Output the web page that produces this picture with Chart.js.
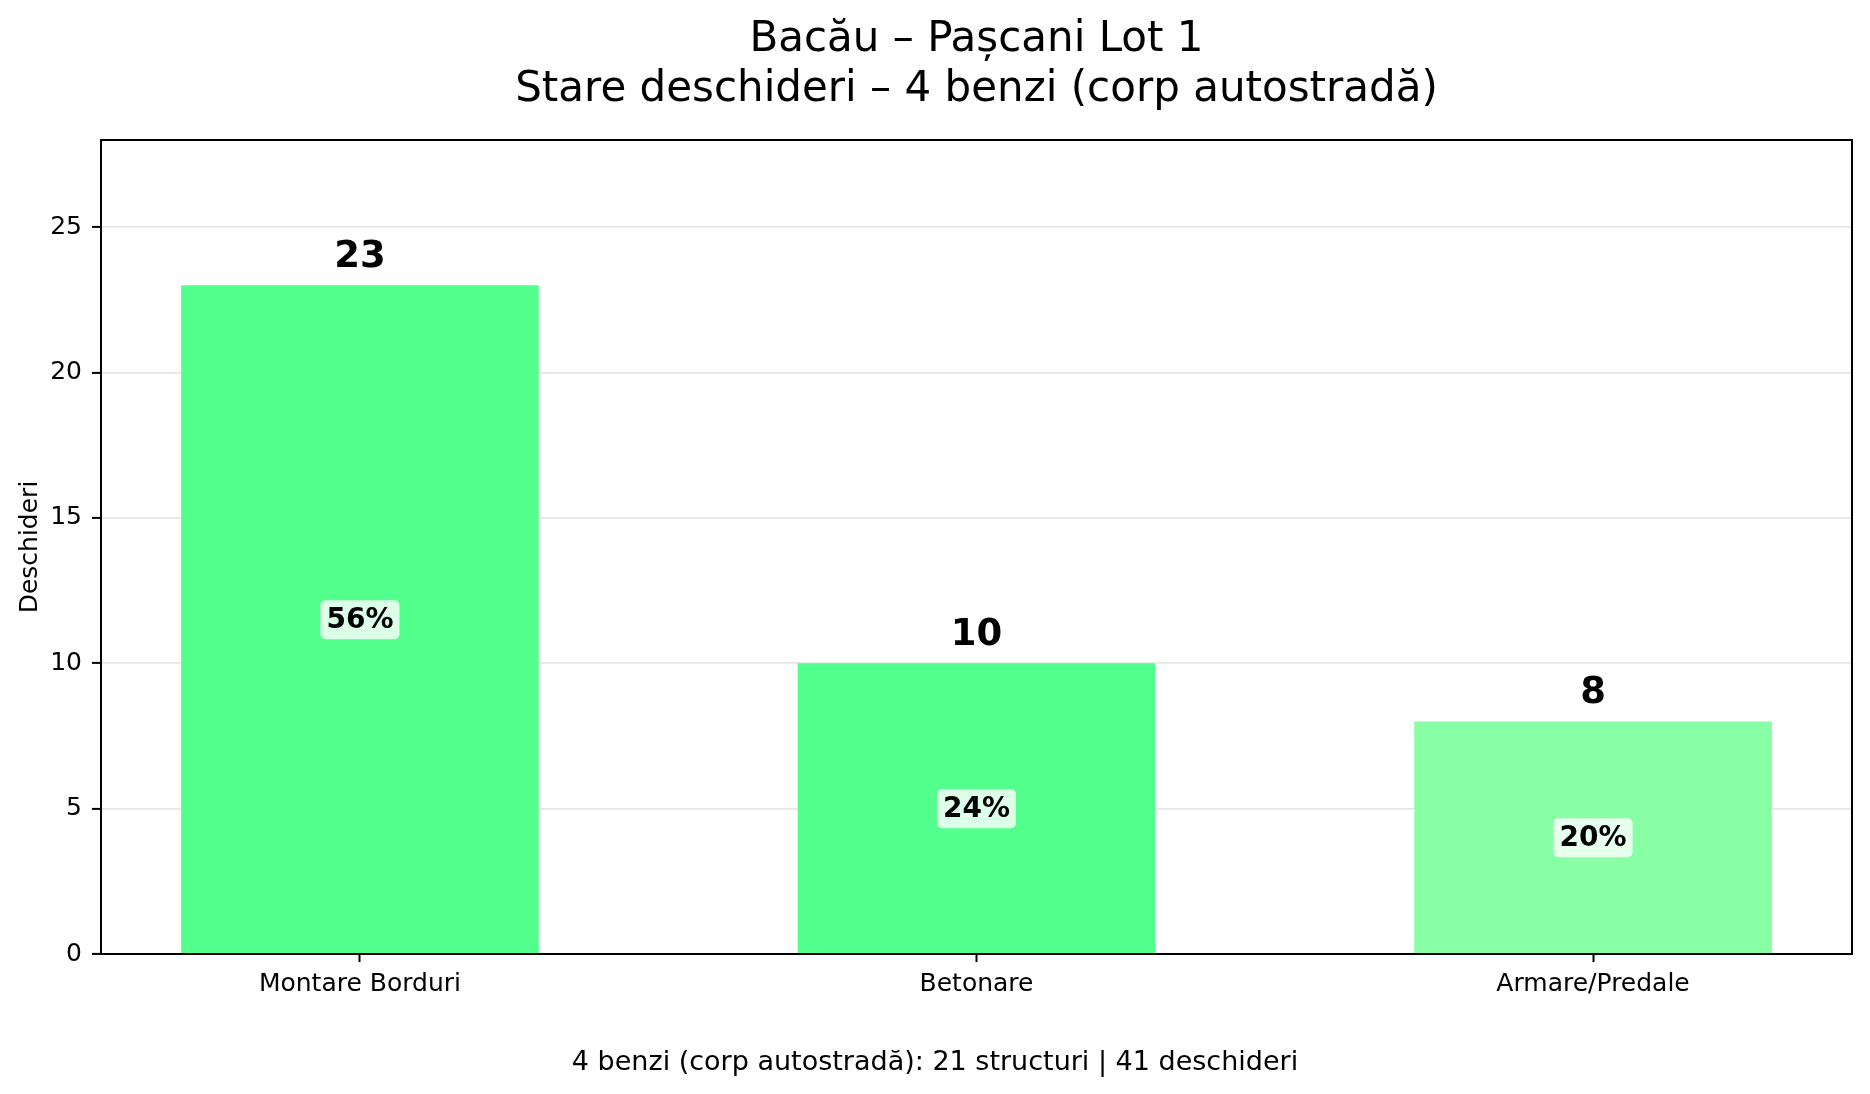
<!DOCTYPE html>
<html>
<head>
<meta charset="utf-8">
<script src="https://cdn.jsdelivr.net/npm/chart.js@4.4.1/dist/chart.umd.min.js"></script>
<style>
  html, body { margin: 0; padding: 0; background: #fff; }
  canvas { display: block; }
</style>
</head>
<body>
<canvas id="graf" width="1870" height="1094"></canvas>
<script>
// date
const categorii = ["Montare Borduri", "Betonare", "Armare/Predale"]
const deschideri = [23, 10, 8]
const procente = [56, 24, 20]
const yTicks = [0, 5, 10, 15, 20, 25]
const culori = ["#53ff8c", "#53ff8c", "#88ffa5"]

const titlu = ["Bacău – Pașcani Lot 1", "Stare deschideri – 4 benzi (corp autostradă)"]
const tipBenzi = "4 benzi (corp autostradă)"
const nrStructuri = 21
const totalDeschideri = 41

const FONT = "'DejaVu Sans', sans-serif"

// titlul (centrat pe axe), nota de jos, etichetele barelor si chenarul
const eticheteBare = {
    id: "eticheteBare",
    afterDatasetsDraw(chart) {
        const ctx = chart.ctx
        const meta = chart.getDatasetMeta(0)
        const y = chart.scales.y
        const area = chart.chartArea
        ctx.save()
        ctx.textAlign = "center"
        meta.data.forEach((bar, i) => {
            // valoarea bold deasupra
            ctx.fillStyle = "#000"
            ctx.font = "bold 37px " + FONT
            ctx.textBaseline = "alphabetic"
            ctx.fillText(String(deschideri[i]), bar.x, bar.y - 18)

            // procentul intr-o caseta alba semi-transparenta
            const txt = procente[i] + "%"
            ctx.font = "bold 28px " + FONT
            const w = ctx.measureText(txt).width + 12
            const h = 39
            const cy = y.getPixelForValue(deschideri[i] / 2)
            ctx.fillStyle = "rgba(255,255,255,0.8)"
            ctx.beginPath()
            ctx.roundRect(bar.x - w / 2, cy - h / 2, w, h, 5)
            ctx.fill()
            ctx.fillStyle = "#000"
            ctx.textBaseline = "middle"
            ctx.fillText(txt, bar.x, cy + 1)
        })
        // chenar
        ctx.strokeStyle = "#000"
        ctx.lineWidth = 2
        ctx.strokeRect(area.left, area.top, area.right - area.left, area.bottom - area.top)

        // titlu pe doua randuri
        const cx = (area.left + area.right) / 2
        ctx.fillStyle = "#000"
        ctx.textBaseline = "alphabetic"
        ctx.font = "42px " + FONT
        ctx.fillText(titlu[0], cx, 51)
        ctx.fillText(titlu[1], cx, 101)

        // nota de jos, centrata pe figura
        ctx.font = "27px " + FONT
        ctx.fillText(tipBenzi + ": " + nrStructuri + " structuri | " + totalDeschideri + " deschideri", chart.width / 2, 1070)
        ctx.restore()
    }
}

const canvas = document.getElementById("graf")

const chart = new Chart(canvas, {
    type: "bar",
    data: {
        datasets: [{
            data: categorii.map((c, i) => ({ x: i, y: deschideri[i] })),
            backgroundColor: culori,
            borderWidth: 0,
            barPercentage: 0.58,
            categoryPercentage: 1
        }]
    },
    options: {
        responsive: false,
        devicePixelRatio: 1,
        animation: false,
        layout: { padding: { left: 0, right: 18, top: 140, bottom: 50 } },
        plugins: {
            legend: { display: false },
            tooltip: { enabled: false },
            title: { display: false }
        },
        scales: {
            x: {
                type: "linear",
                min: -0.42,
                max: 2.42,
                offset: false,
                afterBuildTicks: (s) => { s.ticks = categorii.map((c, i) => ({ value: i })) },
                afterFit: (s) => { s.height = 90 },
                ticks: {
                    callback: (v) => categorii[v],
                    color: "#000",
                    font: { family: FONT, size: 25 },
                    padding: 7,
                    autoSkip: false,
                    maxRotation: 0
                },
                grid: {
                    display: true,
                    offset: false,
                    drawOnChartArea: false,
                    drawTicks: true,
                    tickLength: 8,
                    tickColor: "#000",
                    tickWidth: 2
                },
                border: { display: true, color: "#000", width: 2 }
            },
            y: {
                min: 0,
                max: 28,
                afterBuildTicks: (s) => { s.ticks = yTicks.map(v => ({ value: v })) },
                afterFit: (s) => { s.width = 101 },
                ticks: {
                    color: "#000",
                    font: { family: FONT, size: 25 },
                    padding: 10
                },
                grid: {
                    color: "#e6e6e6",
                    lineWidth: 1.8,
                    tickLength: 9,
                    tickColor: "#000",
                    tickWidth: 2
                },
                border: { display: true, color: "#000", width: 2 },
                title: {
                    display: true,
                    text: "Deschideri",
                    color: "#000",
                    font: { family: FONT, size: 25, lineHeight: 1.2 },
                    padding: { top: 15, bottom: 0 }
                }
            }
        }
    },
    plugins: [eticheteBare]
})
</script>
</body>
</html>
